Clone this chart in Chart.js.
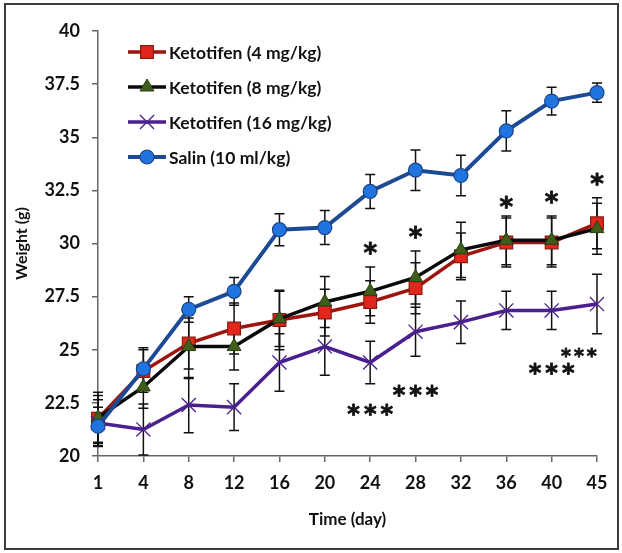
<!DOCTYPE html>
<html>
<head>
<meta charset="utf-8">
<script src="https://cdn.jsdelivr.net/npm/chart.js@4.4.1/dist/chart.umd.min.js"></script>
<style>
  html, body { margin: 0; padding: 0; background: #fff; }
  #wrap { position: relative; width: 622px; height: 553px; }
  #frame { position: absolute; left: 4px; top: 3px; width: 611px; height: 543px; border: 2px solid #3c3c3c; }
  canvas { position: absolute; left: 0; top: 0; }
</style>
</head>
<body>
<div id="wrap"><div id="frame"></div><canvas id="chart" width="622" height="553"></canvas></div>
<script>
// datos
const days = ["1", "4", "8", "12", "16", "20", "24", "28", "32", "36", "40", "45"];
const yTicks = [20, 22.5, 25, 27.5, 30, 32.5, 35, 37.5, 40];

const keto4 = [21.75, 24.0, 25.3, 26.0, 26.4, 26.75, 27.25, 27.9, 29.4, 30.05, 30.05, 30.95];
const keto4Err = [1.1, 1.0, 1.2, 1.2, 1.4, 1.1, 1.0, 1.2, 1.1, 1.15, 1.15, 1.2];

const keto8 = [21.8, 23.25, 25.15, 25.15, 26.45, 27.25, 27.75, 28.4, 29.7, 30.15, 30.15, 30.7];
const keto8Err = [1.2, 1.0, 1.5, 1.1, 1.3, 1.2, 1.15, 1.25, 1.3, 1.15, 1.15, 1.2];

const keto16 = [21.55, 21.25, 22.4, 22.3, 24.4, 25.15, 24.4, 25.85, 26.3, 26.85, 26.85, 27.15];
const keto16Err = [1.1, 1.2, 1.3, 1.1, 1.35, 1.35, 1.0, 1.15, 1.0, 0.9, 0.9, 1.4];

const salin = [21.4, 24.1, 26.9, 27.75, 30.65, 30.75, 32.45, 33.45, 33.2, 35.3, 36.7, 37.1];
const salinErr = [0.9, 1.0, 0.6, 0.65, 0.75, 0.8, 0.8, 0.95, 0.95, 0.95, 0.65, 0.45];

// asteriscos de significancia (indice de categoria, valor y, texto)
const starIdx = [6, 7, 9, 10, 11, 6, 7, 10, 10.6];
const starY = [29.85, 30.6, 32.0, 32.25, 33.1, 22.25, 23.15, 24.2, 24.95];
const starText = ["*", "*", "*", "*", "*", "***", "***", "***", "***"];
const starSize = [26, 26, 26, 26, 26, 24, 24, 24, 19];

const FONT = "Lato, 'Open Sans', sans-serif";
const STAR_FONT = "'DejaVu Sans', sans-serif";

// Barras de error verticales con tapas
const errorBars = {
  id: "errorBars",
  beforeDatasetsDraw(chart) {
    const ctx = chart.ctx;
    const xs = chart.scales.x;
    const ys = chart.scales.y;
    ctx.save();
    ctx.strokeStyle = "#111";
    ctx.lineWidth = 1.5;
    chart.data.datasets.forEach((ds) => {
      ds.data.forEach((v, i) => {
        const e = ds.errors[i];
        const px = xs.getPixelForValue(i);
        const top = ys.getPixelForValue(v + e);
        const bot = ys.getPixelForValue(v - e);
        ctx.beginPath();
        ctx.moveTo(px, top);
        ctx.lineTo(px, bot);
        ctx.moveTo(px - 5, top);
        ctx.lineTo(px + 5, top);
        ctx.moveTo(px - 5, bot);
        ctx.lineTo(px + 5, bot);
        ctx.stroke();
      });
    });
    ctx.restore();
  },
};

// Asteriscos
const stars = {
  id: "stars",
  afterDatasetsDraw(chart) {
    const ctx = chart.ctx;
    const xs = chart.scales.x;
    const ys = chart.scales.y;
    ctx.save();
    ctx.fillStyle = "#111";
    ctx.strokeStyle = "#111";
    ctx.lineWidth = 0.8;
    ctx.lineJoin = "round";
    ctx.textAlign = "center";
    ctx.textBaseline = "alphabetic";
    starText.forEach((t, i) => {
      const size = starSize[i];
      ctx.font = "bold " + size + "px " + STAR_FONT;
      const gap = t.length > 1 ? Math.round(size * 0.16) : 0;
      ctx.letterSpacing = gap + "px";
      const px = xs.getPixelForValue(starIdx[i]) + gap / 2;
      const py = ys.getPixelForValue(starY[i]) + size * 0.59;
      ctx.fillText(t, px, py);
      ctx.strokeText(t, px, py);
    });
    ctx.restore();
  },
};

// Leyenda dentro del area del grafico
const insideLegend = {
  id: "insideLegend",
  afterDraw(chart) {
    const ctx = chart.ctx;
    const area = chart.chartArea;
    ctx.save();
    ctx.font = "bold 17.5px " + FONT;
    ctx.textBaseline = "middle";
    ctx.fillStyle = "#111";
    chart.data.datasets.forEach((ds, i) => {
      const y = area.top + 21 + i * 35;
      const x0 = area.left + 30;
      ctx.strokeStyle = ds.borderColor;
      ctx.lineWidth = ds.borderWidth;
      ctx.beginPath();
      ctx.moveTo(x0, y);
      ctx.lineTo(x0 + 38, y);
      ctx.stroke();
      ctx.fillStyle = ds.pointBackgroundColor;
      ctx.strokeStyle = ds.pointBorderColor;
      ctx.lineWidth = ds.pointBorderWidth;
      Chart.helpers.drawPoint(ctx, {
        pointStyle: ds.pointStyle,
        radius: ds.pointRadius,
        borderWidth: ds.pointBorderWidth,
        rotation: 0,
      }, x0 + 19, y);
      ctx.fillStyle = "#111";
      ctx.fillText(ds.label, x0 + 41, y + 1);
    });
    ctx.restore();
  },
};

new Chart(document.getElementById("chart"), {
  type: "line",
  data: {
    labels: days,
    datasets: [
      {
        label: "Ketotifen (4 mg/kg)",
        data: keto4,
        errors: keto4Err,
        borderColor: "#9e1510",
        borderWidth: 3.5,
        pointStyle: "rect",
        pointRadius: 9,
        pointBackgroundColor: "#e3261b",
        pointBorderColor: "#8a1a0e",
        pointBorderWidth: 1.2,
        order: 3,
      },
      {
        label: "Ketotifen (8 mg/kg)",
        data: keto8,
        errors: keto8Err,
        borderColor: "#0a0a0a",
        borderWidth: 3.5,
        pointStyle: "triangle",
        pointRadius: 8,
        pointBackgroundColor: "#3f5e1b",
        pointBorderColor: "#2b3f12",
        pointBorderWidth: 1,
        order: 2,
      },
      {
        label: "Ketotifen (16 mg/kg)",
        data: keto16,
        errors: keto16Err,
        borderColor: "#4a1f8e",
        borderWidth: 3.5,
        pointStyle: "crossRot",
        pointRadius: 10,
        pointBackgroundColor: "#4a1f8e",
        pointBorderColor: "#4a1f8e",
        pointBorderWidth: 1.3,
        order: 1,
      },
      {
        label: "Salin (10 ml/kg)",
        data: salin,
        errors: salinErr,
        borderColor: "#1d4a94",
        borderWidth: 4,
        pointStyle: "circle",
        pointRadius: 7,
        pointBackgroundColor: "#1f74e0",
        pointBorderColor: "#1b4486",
        pointBorderWidth: 1.2,
        order: 0,
      },
    ],
  },
  options: {
    responsive: false,
    animation: false,
    layout: { padding: { left: 0, right: 25, top: 31, bottom: 0 } },
    plugins: {
      legend: { display: false },
      tooltip: { enabled: false },
    },
    elements: { line: { tension: 0 } },
    scales: {
      x: {
        type: "category",
        offset: false,
        grid: {
          display: true,
          drawOnChartArea: false,
          drawTicks: true,
          tickLength: 6,
          color: "#666",
          lineWidth: 1.5,
        },
        border: { display: true, color: "#666", width: 1.5 },
        ticks: {
          color: "#111",
          padding: 10,
          maxRotation: 0,
          autoSkip: false,
          font: { family: FONT, weight: "bold", size: 18 },
        },
        title: {
          display: true,
          text: "Time (day)",
          color: "#111",
          font: { family: FONT, weight: "bold", size: 17 },
          padding: { top: 0, bottom: 23 },
        },
        afterFit(s) {
          s.height = 97;
        },
      },
      y: {
        min: 20,
        max: 40,
        afterBuildTicks(s) {
          s.ticks = yTicks.map((v) => ({ value: v }));
        },
        grid: {
          display: true,
          drawOnChartArea: false,
          drawTicks: true,
          tickLength: 6,
          color: "#666",
          lineWidth: 1.5,
        },
        border: { display: true, color: "#666", width: 1.5 },
        ticks: {
          color: "#111",
          padding: 12,
          font: { family: FONT, weight: "bold", size: 18 },
        },
        title: {
          display: true,
          text: "Weight (g)",
          color: "#111",
          font: { family: FONT, weight: "bold", size: 16 },
          padding: { top: 12, bottom: 0 },
        },
        afterFit(s) {
          s.width = 98;
        },
      },
    },
  },
  plugins: [errorBars, stars, insideLegend],
});
</script>
</body>
</html>
